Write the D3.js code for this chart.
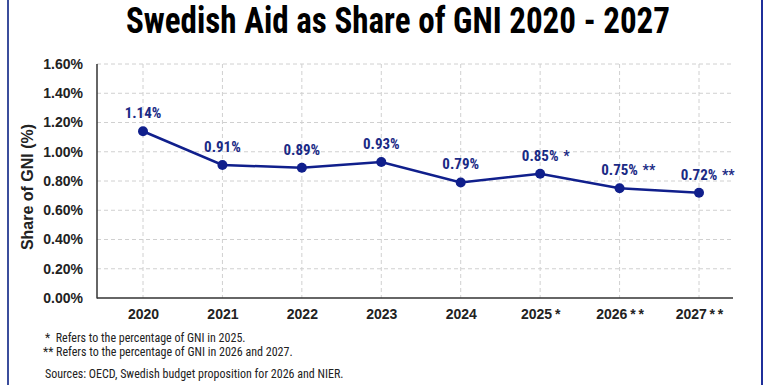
<!DOCTYPE html>
<html>
<head>
<meta charset="utf-8">
<script src="https://cdn.jsdelivr.net/npm/d3@7"></script>
<style>
  body { margin: 0; background: #fff; }
  svg { display: block; }
  text { font-family: "Liberation Sans Narrow", "Arial Narrow", "Roboto Condensed", sans-serif; }
</style>
</head>
<body>
<svg id="canvas" width="770" height="385"></svg>
<script>
// data
let years = ['2020', '2021', '2022', '2023', '2024', '2025', '2026', '2027']
let yearMarks = ['', '', '', '', '', '*', '**', '**']
let shareOfGNI = [1.14, 0.91, 0.89, 0.93, 0.79, 0.85, 0.75, 0.72]
let yTicks = [0, 0.2, 0.4, 0.6, 0.8, 1.0, 1.2, 1.4, 1.6]
let footnotes = [
  '*  Refers to the percentage of GNI in 2025.',
  '** Refers to the percentage of GNI in 2026 and 2027.'
]
let sourceNote = 'Sources: OECD, Swedish budget proposition for 2026 and NIER.'

let navy = '#101f8c'
let canvas = d3.select('#canvas')

let x = d3.scalePoint().domain(years).range([143, 699])
let y = d3.scaleLinear().domain([0, 1.6]).range([298, 64])
let plotLeft = 97, plotRight = 733

// frame
canvas.append('line').attr('x1', 8).attr('x2', 8).attr('y1', 0).attr('y2', 385)
  .attr('stroke', '#3b4d9c').attr('stroke-width', 2)
canvas.append('line').attr('x1', 762).attr('x2', 762).attr('y1', 0).attr('y2', 385)
  .attr('stroke', '#1f2f9a').attr('stroke-width', 2)

// title
canvas.append('text')
  .attr('x', 398).attr('y', 33)
  .attr('text-anchor', 'middle')
  .attr('font-size', 36).attr('font-weight', 'bold').attr('fill', '#000')
  .attr('textLength', 544).attr('lengthAdjust', 'spacingAndGlyphs')
  .text('Swedish Aid as Share of GNI 2020 - 2027')

// grid
canvas.append('g').selectAll('line')
  .data(yTicks.slice(1))
  .enter().append('line')
  .attr('x1', plotLeft).attr('x2', plotRight)
  .attr('y1', d => y(d)).attr('y2', d => y(d))
  .attr('stroke', '#d0d0d0').attr('stroke-dasharray', '4,3')

canvas.append('g').selectAll('line')
  .data(years)
  .enter().append('line')
  .attr('x1', d => x(d)).attr('x2', d => x(d))
  .attr('y1', y(1.6)).attr('y2', y(0))
  .attr('stroke', '#d0d0d0').attr('stroke-dasharray', '4,3')

// axes
let yAxis = d3.axisLeft(y).tickValues(yTicks).tickSize(0).tickPadding(14)
  .tickFormat(d => d.toFixed(2) + '%')
let gy = canvas.append('g').attr('transform', `translate(${plotLeft},0)`).call(yAxis)
gy.select('.domain').remove()
gy.selectAll('text').attr('font-size', 14).attr('font-weight', 'bold').attr('fill', '#222')
  .style('font-family', '"Liberation Sans Narrow", "Arial Narrow", sans-serif')

let xAxis = d3.axisBottom(x).tickSize(0).tickPadding(11)
  .tickFormat((d, i) => d + (yearMarks[i] ? '\u2009' + yearMarks[i].split('').join('\u2009') : ''))
let gx = canvas.append('g').attr('transform', `translate(0,${y(0)})`).call(xAxis)
gx.select('.domain').remove()
gx.selectAll('text').attr('font-size', 14).attr('font-weight', 'bold').attr('fill', '#222')
  .style('font-family', '"Liberation Sans Narrow", "Arial Narrow", sans-serif')

canvas.append('line').attr('x1', plotLeft).attr('x2', plotLeft).attr('y1', y(1.6)).attr('y2', y(0) + 0.5)
  .attr('stroke', '#333').attr('stroke-width', 1.5)
canvas.append('line').attr('x1', plotLeft).attr('x2', plotRight).attr('y1', y(0)).attr('y2', y(0))
  .attr('stroke', '#333').attr('stroke-width', 1.5)

// y title
canvas.append('text')
  .attr('transform', 'translate(33,187) rotate(-90)')
  .attr('text-anchor', 'middle')
  .attr('font-size', 16).attr('font-weight', 'bold').attr('fill', '#222')
  .style('font-family', '"Liberation Sans", Arial, sans-serif')
  .text('Share of GNI (%)')

// line + dots
let line = d3.line().x((d, i) => x(years[i])).y(d => y(d))
canvas.append('path')
  .datum(shareOfGNI)
  .attr('d', line)
  .attr('fill', 'none').attr('stroke', navy).attr('stroke-width', 2.5)

canvas.append('g').selectAll('circle')
  .data(shareOfGNI)
  .enter().append('circle')
  .attr('cx', (d, i) => x(years[i])).attr('cy', d => y(d))
  .attr('r', 5).attr('fill', navy)

// value labels
canvas.append('g').selectAll('text')
  .data(shareOfGNI)
  .enter().append('text')
  .attr('x', (d, i) => x(years[i])).attr('y', d => y(d) - 13)
  .attr('text-anchor', 'middle')
  .attr('font-size', 15).attr('font-weight', 'bold').attr('fill', '#1a2a85')
  .text(d => d.toFixed(2) + '%')

canvas.append('g').selectAll('text')
  .data(shareOfGNI)
  .enter().append('text')
  .attr('x', (d, i) => x(years[i]) + 23).attr('y', d => y(d) - 13)
  .attr('font-size', 14).attr('font-weight', 'bold').attr('fill', '#1a2a85')
  .text((d, i) => yearMarks[i])

// notes
canvas.append('g').selectAll('text')
  .data(footnotes)
  .enter().append('text')
  .attr('x', (d, i) => i == 0 ? 45 : 43).attr('y', (d, i) => 342 + i * 14)
  .attr('font-size', 12).attr('fill', '#222')
  .attr('xml:space', 'preserve')
  .text(d => d)

canvas.append('text')
  .attr('x', 45).attr('y', 378)
  .attr('font-size', 12).attr('fill', '#222')
  .text(sourceNote)
</script>
</body>
</html>
